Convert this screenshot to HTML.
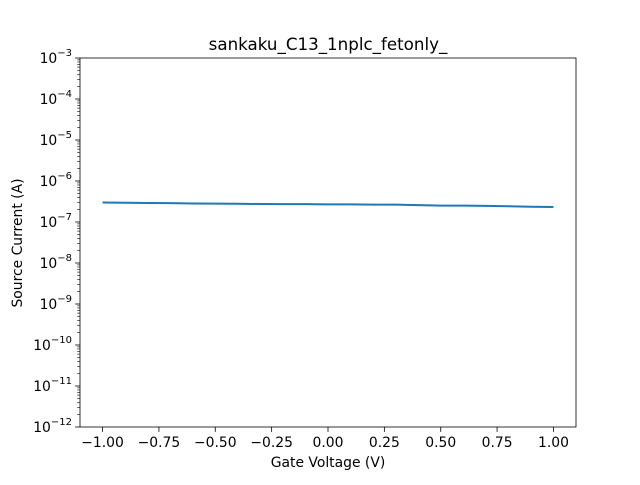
<!DOCTYPE html>
<html><head><meta charset="utf-8"><style>
body{margin:0;background:#fff}
svg{font-family:"DejaVu Sans",sans-serif}
</style></head><body>
<svg id="chart" width="640" height="480">
<rect width="640" height="480" fill="#fff"/>
<text x="328" y="50" font-size="16.7" text-anchor="middle">sankaku_C13_1nplc_fetonly_</text>
<g id="axes"></g>
<text x="328" y="467" font-size="13.9" text-anchor="middle">Gate Voltage (V)</text>
<text transform="translate(22,243) rotate(-90)" font-size="13.9" text-anchor="middle">Source Current (A)</text>
</svg>
<script>
const xs=[-1.0,-0.9,-0.8,-0.7,-0.6,-0.5,-0.4,-0.3,-0.2,-0.1,0.0,0.1,0.2,0.3,0.4,0.5,0.6,0.7,0.8,0.9,1.0];
const ys=[3.0e-7,2.95e-7,2.9e-7,2.88e-7,2.82e-7,2.8e-7,2.78e-7,2.75e-7,2.72e-7,2.72e-7,2.7e-7,2.7e-7,2.65e-7,2.65e-7,2.58e-7,2.5e-7,2.5e-7,2.47e-7,2.43e-7,2.36e-7,2.32e-7];
const xTicks=[-1.0,-0.75,-0.5,-0.25,0,0.25,0.5,0.75,1.0];
const xTickLabels=["−1.00","−0.75","−0.50","−0.25","0.00","0.25","0.50","0.75","1.00"];
const yExps=[-12,-11,-10,-9,-8,-7,-6,-5,-4,-3];
const L=80,R=576,T=58,B=427,xmin=-1.1,xmax=1.1,lmin=-12,lmax=-3;
const X=v=>L+(v-xmin)/(xmax-xmin)*(R-L);
const Y=v=>B-(Math.log10(v)-lmin)/(lmax-lmin)*(B-T);
const NS="http://www.w3.org/2000/svg",g=document.getElementById('axes');
function mk(t,a,txt){const e=document.createElementNS(NS,t);for(const k in a)e.setAttribute(k,a[k]);if(txt!==undefined)e.textContent=txt;g.appendChild(e);return e;}
xTicks.forEach((v,i)=>{const x=X(v);
 const t=mk('line',{x1:x,x2:x,y1:B,y2:B+4.9,stroke:'#000','stroke-width':0.8});
 
 
 const l=mk('text',{x:x,y:B+20,'font-size':13.9,'text-anchor':'middle'},xTickLabels[i]);
 
 });
yExps.forEach(e=>{const y=Y(Math.pow(10,e));
 const t=mk('line',{x1:L-4.9,x2:L,y1:y,y2:y,stroke:'#000','stroke-width':0.8});
 
 
 const l=mk('text',{x:L-8,y:y+5,'font-size':13.9,'text-anchor':'end'});
 l.innerHTML='10<tspan dy="-7" font-size="10">'+(e<0?'−':'')+Math.abs(e)+'</tspan>';
 
 
 if(e<lmax){for(let m=2;m<10;m++){const ym=Y(m*Math.pow(10,e));
  const mt=mk('line',{x1:L-2.8,x2:L,y1:ym,y2:ym,stroke:'#000','stroke-width':0.6});
  
  }}});
const p=mk('polyline',{points:xs.map((v,i)=>X(v)+','+Y(ys[i])).join(' '),fill:'none',stroke:'#1f77b4','stroke-width':2});


const f=mk('rect',{x:L,y:T,width:R-L,height:B-T,fill:'none',stroke:'#000','stroke-width':0.8});


</script>
</body></html>
